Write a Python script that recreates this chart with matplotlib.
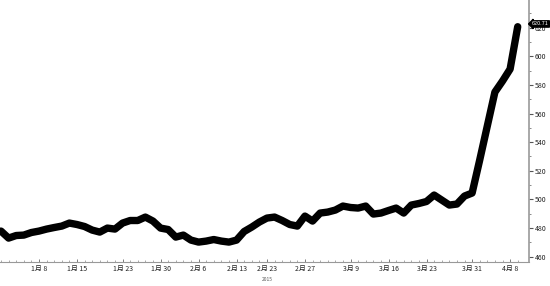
import matplotlib
matplotlib.use("Agg")
import matplotlib.pyplot as plt
from matplotlib.ticker import MultipleLocator

plt.rcParams['font.family'] = ['Noto Sans CJK SC', 'DejaVu Sans']

# daily closes (one value per trading day)
values = [477.8, 472.9, 474.7, 475.0, 476.8, 477.8, 479.2, 480.3, 481.3, 483.4,
          482.4, 481.0, 478.5, 477.1, 479.9, 479.2, 483.4, 485.2, 485.2, 487.6,
          484.8, 479.9, 478.9, 473.6, 475.0, 471.5, 470.1, 470.8, 471.9, 470.8,
          470.1, 471.5, 477.5, 480.6, 484.1, 486.9, 487.6, 485.2, 482.4, 481.3,
          488.3, 484.8, 490.4, 491.1, 492.5, 495.3, 494.3, 493.9, 495.3, 489.7,
          490.4, 492.2, 493.9, 490.4, 496.0, 497.1, 498.5, 503.0, 499.5, 496.0,
          496.7, 502.3, 504.4, 527.5, 551.3, 575.0, 582.7, 591.1, 620.71]
days = list(range(len(values)))

tick_pos = [5, 10, 16, 21, 26, 31, 35, 40, 46, 51, 56, 62, 67]
tick_labels = ['1月 8', '1月 15', '1月 23', '1月 30', '2月 6', '2月 13', '2月 23',
               '2月 27', '3月 9', '3月 16', '3月 23', '3月 31', '4月 8']
year_label = '2015'
last_label = '620.71'

fig = plt.figure(figsize=(5.5, 2.86), dpi=100)
ax = fig.add_axes([0.0, 0.084, 0.962, 0.916])

ax.plot(days, values, color='black', lw=5.3, solid_capstyle='round',
        solid_joinstyle='round')

ax.set_xlim(-0.13, 69.5)
ax.yaxis.tick_right()
ax.set_yticks(range(460, 621, 20))
ax.yaxis.set_minor_locator(MultipleLocator(10))
ax.set_ylim(456.2, 639.4)
ax.tick_params(axis='y', which='major', direction='out', length=3, width=0.8,
               color='#555555', labelsize=5, pad=1, labelcolor='#222222')
ax.tick_params(axis='y', which='minor', direction='out', length=1.5, width=0.6,
               color='#777777')

ax.set_xticks(tick_pos)
ax.set_xticklabels(tick_labels)
ax.set_xticks(days, minor=True)
ax.tick_params(axis='x', which='major', direction='in', length=2.5, width=0.6,
               color='#666666', labelsize=5, pad=2, labelcolor='#222222')
ax.tick_params(axis='x', which='minor', direction='in', length=1.5, width=0.5,
               color='#888888')

for side in ['top', 'left']:
    ax.spines[side].set_visible(False)
ax.spines['right'].set_color('#999999')
ax.spines['right'].set_linewidth(1.2)
ax.spines['bottom'].set_color('#999999')
ax.spines['bottom'].set_linewidth(0.8)

ax.text(35, -0.058, year_label, transform=ax.get_xaxis_transform(),
        ha='center', va='top', fontsize=3.5, color='#555555')

ax.annotate(last_label, xy=(1.0, values[-1]), xycoords=('axes fraction', 'data'),
            xytext=(2, 2), textcoords='offset points', ha='left', va='center',
            fontsize=4, color='white',
            bbox=dict(boxstyle='larrow,pad=0.12', fc='black', ec='black'))

fig.savefig('out.png', dpi=100)
